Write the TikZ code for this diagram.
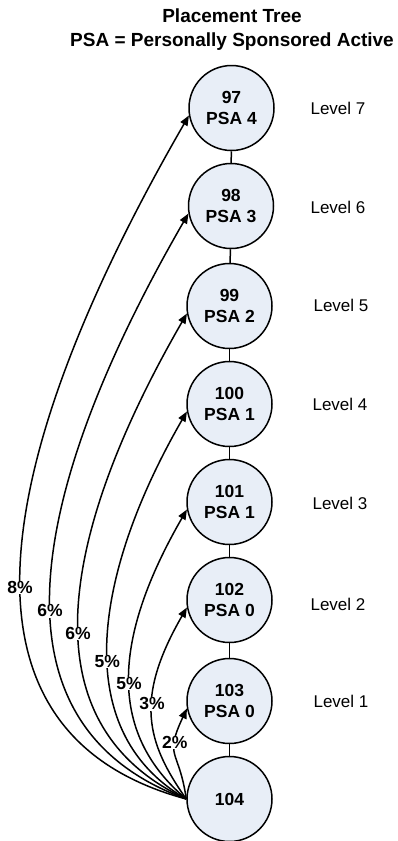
\documentclass[tikz,border=0pt]{standalone}
\usepackage{fontspec}
\setmainfont{Liberation Sans}
\usetikzlibrary{arrows.meta}
\definecolor{nodefill}{RGB}{232,238,247}
\begin{document}
\begin{tikzpicture}[x=1pt,y=1pt,
  person/.style={circle,draw=black,line width=1.5pt,fill=nodefill,minimum size=85pt,inner sep=0pt,
    align=center,font=\fontsize{17.5}{21.5}\selectfont\bfseries},
  lvl/.style={font=\fontsize{17}{20}\selectfont},
  link/.style={line width=1.5pt},
  bonus/.style={line width=1.5pt,-{Triangle[length=10pt,width=8pt]}},
  pct/.style={fill=white,inner sep=0.5pt,font=\fontsize{17.5}{20}\selectfont\bfseries}]
\useasboundingbox (0,0) rectangle (398,-841);
\node[align=center,font=\fontsize{19}{24}\selectfont\bfseries] (title) at (232,-30)
  {Placement Tree\\PSA = Personally Sponsored Active};
\node[person] (n97)  at (231.5,-108) {97\\PSA 4};
\node[person] (n98)  at (231,-206) {98\\PSA 3};
\node[person] (n99)  at (229.5,-306) {99\\PSA 2};
\node[person] (n100) at (229.5,-404) {100\\PSA 1};
\node[person] (n101) at (229.5,-502) {101\\PSA 1};
\node[person] (n102) at (229.5,-600) {102\\PSA 0};
\node[person] (n103) at (229.5,-701) {103\\PSA 0};
\node[person] (n104) at (229.5,-799) {104};
\node[lvl] (l7) at (338,-108) {Level 7};
\node[lvl] (l6) at (338,-207) {Level 6};
\node[lvl] (l5) at (341,-305) {Level 5};
\node[lvl] (l4) at (340,-404) {Level 4};
\node[lvl] (l3) at (340,-503) {Level 3};
\node[lvl] (l2) at (338,-604) {Level 2};
\node[lvl] (l1) at (341,-701) {Level 1};
\draw[link] (n97) -- (n98);
\draw[link] (n98) -- (n99);
\draw[link] (n99) -- (n100);
\draw[link] (n100) -- (n101);
\draw[link] (n101) -- (n102);
\draw[link] (n102) -- (n103);
\draw[link] (n103) -- (n104);
\draw[bonus] (n104.west) to[out=165,in=240,out distance=280pt,in distance=340pt]
  node[pct,pos=0.435] (p97) {8\%} (n97.190);
\draw[bonus] (n104.west) to[out=160,in=240,out distance=235pt,in distance=282pt]
  node[pct,pos=0.43] (p98) {6\%} (n98.190);
\draw[bonus] (n104.west) to[out=155,in=240,out distance=190pt,in distance=229pt]
  node[pct,pos=0.435] (p99) {6\%} (n99.190);
\draw[bonus] (n104.west) to[out=150,in=240,out distance=140pt,in distance=179pt]
  node[pct,pos=0.44] (p100) {5\%} (n100.190);
\draw[bonus] (n104.west) to[out=140,in=240,out distance=105pt,in distance=146pt]
  node[pct,pos=0.475] (p101) {5\%} (n101.190);
\draw[bonus] (n104.west) to[out=125,in=240,out distance=69pt,in distance=106pt]
  node[pct,pos=0.57] (p102) {3\%} (n102.190);
\draw[bonus] (n104.west) to[out=98,in=245,out distance=51pt,in distance=55pt]
  node[pct,pos=0.67] (p103) {2\%} (n103.190);
\end{tikzpicture}
\end{document}
